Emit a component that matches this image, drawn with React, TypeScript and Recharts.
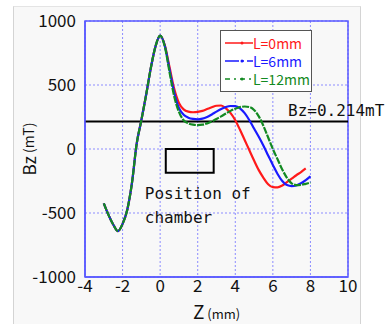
import { LineChart, Line, XAxis, YAxis, CartesianGrid, ReferenceLine, ReferenceArea, Legend } from 'recharts';

// Z position (mm)
const zValues = [
  -3, -2.75, -2.5, -2.25, -2, -1.75, -1.5, -1.25, -1, -0.75, -0.5, -0.25, 0,
  0.25, 0.5, 0.75, 1, 1.25, 1.5, 1.75, 2, 2.25, 2.5, 2.75, 3, 3.25, 3.5, 3.75,
  4, 4.25, 4.5, 4.75, 5, 5.25, 5.5, 5.75, 6, 6.25, 6.5, 6.75, 7, 7.25, 7.5, 7.75, 8,
];

// shared rising part, z = -3 .. 0
const riseBz = [-425, -515, -590, -642, -585, -475, -265, 40, 225, 420, 630, 800, 885];

const bzL0 = [
  ...riseBz,
  810, 640, 470, 360, 310, 292, 287, 290, 298, 312, 326, 338, 340, 318,
  280, 225, 150, 70, -10, -90, -165, -225, -275, -298, -300, -285, -258, -232, -205, -180, -152,
];
const bzL6 = [
  ...riseBz,
  805, 620, 440, 320, 268, 245, 235, 232, 237, 250, 270, 292, 312, 328,
  336, 335, 318, 280, 225, 160, 95, 25, -50, -125, -195, -250, -282, -290, -285, -268, -243, -213,
];
const bzL12 = [
  ...riseBz,
  800, 600, 410, 290, 225, 200, 190, 187, 190, 200, 215, 235, 255, 277,
  298, 315, 327, 332, 328, 305, 255, 180, 90, 0, -80, -160, -225, -268, -282, -280, -272, -263,
];

const xTicks = [-4, -2, 0, 2, 4, 6, 8, 10];
const yTicks = [-1000, -500, 0, 500, 1000];
const thresholdBz = 214;
const chamberZ = [0.3, 2.85];
const chamberBz = [-185, 0];

const series = [
  { key: 'L0', name: 'L=0mm', color: '#ff1a1a', dash: undefined, legendDash: undefined },
  { key: 'L6', name: 'L=6mm', color: '#1a1aff', dash: undefined, legendDash: '14 3 2 3' },
  { key: 'L12', name: 'L=12mm', color: '#138a22', dash: '7 1.2', legendDash: '5 4 2 4' },
];

const data = zValues.map((z, i) => ({ z, L0: bzL0[i], L6: bzL6[i], L12: bzL12[i] }));

const numFont = "'Liberation Sans Narrow', 'Noto Sans CJK JP', sans-serif";
const monoFont = "'DejaVu Sans Mono', monospace";

function LegendBox() {
  return (
    <div style={{ background: '#fff', border: '1px solid #555', padding: '3px 2px 3px 4px', width: 84, boxSizing: 'content-box' }}>
      {series.map((s) => (
        <div key={s.key} style={{ display: 'flex', alignItems: 'center', height: 18, whiteSpace: 'nowrap' }}>
          <svg width={28} height={10} style={{ flex: 'none' }}>
            <line x1={0} y1={5} x2={28} y2={5} stroke={s.color} strokeWidth={1.5} strokeDasharray={s.legendDash} />
            <circle cx={17} cy={5} r={1.5} fill={s.color} />
          </svg>
          <span style={{ color: s.color, fontFamily: numFont, fontSize: 14, lineHeight: '14px', display: 'block' }}>{s.name}</span>
        </div>
      ))}
    </div>
  );
}

export default function App() {
  return (
    <div style={{ position: 'absolute', left: 0, top: 0, width: 388, height: 324, background: '#fff' }}>
      <div
        style={{
          position: 'absolute', left: 13, top: 6, width: 346, height: 318,
          background: '#f8f8f8', borderLeft: '1px solid #d4d4d4', borderTop: '1px solid #e4e4e4', borderRight: '1px solid #d4d4d4',
        }}
      />
      <LineChart
        width={388}
        height={324}
        data={data}
        margin={{ top: 21, right: 40, bottom: 17, left: 0 }}
        style={{ position: 'absolute', left: 0, top: 0 }}
      >
        <CartesianGrid stroke="#8c8cff" strokeDasharray="2 2" strokeWidth={1} />
        <XAxis
          dataKey="z"
          type="number"
          domain={[-4, 10]}
          ticks={xTicks}
          interval={0}
          height={30}
          axisLine={{ stroke: '#5a5aff', strokeWidth: 1.5 }}
          tickLine={false}
          tick={{ fill: '#111', fontSize: 17, fontFamily: numFont, dy: -5 }}
          label={({ viewBox }: any) => (
            <text x={viewBox.x + viewBox.width / 2} y={viewBox.y + 42} textAnchor="middle" fill="#111" fontFamily={numFont}>
              <tspan fontSize={19}>Z</tspan>
              <tspan fontSize={13}> (mm)</tspan>
            </text>
          )}
        />
        <YAxis
          type="number"
          domain={[-1000, 1000]}
          ticks={yTicks}
          interval={0}
          width={85}
          axisLine={{ stroke: '#5a5aff', strokeWidth: 1.5 }}
          tickLine={false}
          tick={{ fill: '#111', fontSize: 17, fontFamily: numFont, dx: -1 }}
          label={({ viewBox }: any) => {
            const cx = 28;
            const cy = viewBox.y + viewBox.height / 2;
            return (
              <text x={cx} y={cy} textAnchor="middle" dominantBaseline="central" transform={`rotate(-90 ${cx} ${cy})`} fill="#111" fontFamily={numFont}>
                <tspan fontSize={17}>Bz</tspan>
                <tspan fontSize={14}> (mT)</tspan>
              </text>
            );
          }}
        />
        <ReferenceArea x1={-4} x2={10} y1={-1000} y2={1000} fill="none" stroke="#5a5aff" strokeWidth={1.5} />
        <ReferenceArea
          x1={chamberZ[0]}
          x2={chamberZ[1]}
          y1={chamberBz[0]}
          y2={chamberBz[1]}
          fill="none"
          fillOpacity={0}
          stroke="#000"
          strokeWidth={2}
          label={({ viewBox }: any) => (
            <text x={viewBox.x - 21} y={viewBox.y + viewBox.height + 26} fill="#111" fontFamily={monoFont} fontSize={16}>
              <tspan x={viewBox.x - 21}>Position of</tspan>
              <tspan x={viewBox.x - 21} dy={24}>chamber</tspan>
            </text>
          )}
        />
        <ReferenceLine
          y={thresholdBz}
          stroke="#000"
          strokeWidth={2}
          label={({ viewBox }: any) => (
            <text x={viewBox.x + viewBox.width - 60} y={viewBox.y - 6} fill="#111" fontFamily={monoFont} fontSize={16}>
              Bz=0.214mT
            </text>
          )}
        />
        {series.map((s) => (
          <Line
            key={s.key}
            dataKey={s.key}
            name={s.name}
            type="monotone"
            stroke={s.color}
            strokeWidth={2.2}
            strokeDasharray={s.dash}
            dot={false}
            isAnimationActive={false}
          />
        ))}
        <Legend
          layout="vertical"
          verticalAlign="middle"
          align="center"
          content={() => <LegendBox />}
          wrapperStyle={{ left: 220, top: 30, width: 92, height: 60 }}
        />
      </LineChart>
    </div>
  );
}
